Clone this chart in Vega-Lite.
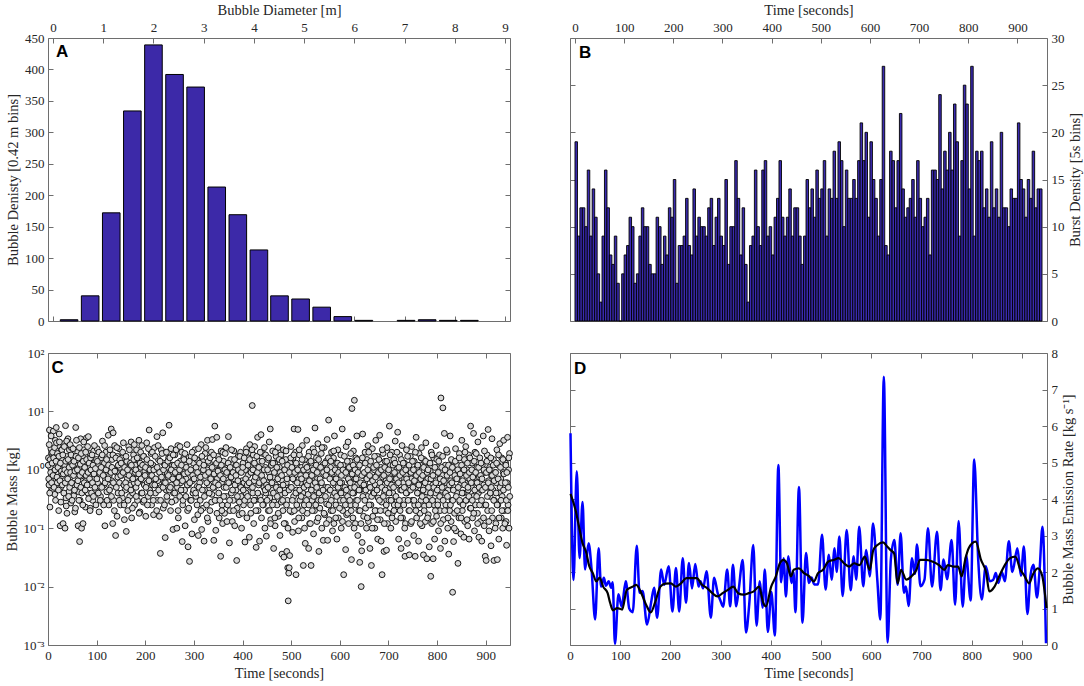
{
"$schema": "https://vega.github.io/schema/vega-lite/v6.json",
"background": "white",
"padding": {"left": 3, "top": 1, "right": 2, "bottom": 2},
"config": {
  "view": {"stroke": "#6e6e6e", "strokeWidth": 1},
  "axis": {"grid": false, "domain": false, "labelFont": "Liberation Serif", "titleFont": "Liberation Serif", "labelFontSize": 13, "titleFontSize": 14.5, "titleFontWeight": "normal", "labelColor": "#262626", "titleColor": "#262626", "tickColor": "#6e6e6e", "tickSize": -5, "labelPadding": 9, "labelFlush": false, "labelOverlap": false, "titlePadding": 4}
},
"columns": 2,
"spacing": {"row": 32, "column": 60},
"bounds": "flush",
"concat": [
 {
  "width": 462, "height": 283,
  "layer": [
   {"data": {"name": "hist"},
    "mark": {"type": "bar", "width": 17.6, "fill": "#3c29a8", "stroke": "#000000", "strokeWidth": 1},
    "encoding": {
      "x": {"field": "d", "type": "quantitative", "scale": {"domain": [0, 9], "nice": false}, "axis": {"orient": "top", "title": "Bubble Diameter [m]", "tickCount": 10}},
      "y": {"field": "n", "type": "quantitative", "scale": {"domain": [0, 450], "nice": false}, "axis": {"orient": "left", "title": "Bubble Denisty [0.42 m bins]", "tickCount": 10}}
    }},
   {"data": {"values": [{}]},
    "mark": {"type": "text", "text": "A", "font": "Liberation Sans", "fontWeight": "bold", "fontSize": 17, "align": "left", "baseline": "middle", "color": "#000000"},
    "encoding": {
      "x": {"datum": 0.06, "type": "quantitative", "axis": {"orient": "bottom", "labels": false, "title": null, "tickCount": 10}},
      "y": {"datum": 428, "type": "quantitative", "axis": {"orient": "right", "labels": false, "title": null, "tickCount": 10}}
    }}
  ],
  "resolve": {"axis": {"x": "independent", "y": "independent"}}
 },
 {
  "width": 477, "height": 283,
  "layer": [
   {"data": {"name": "burst"},
    "mark": {"type": "bar", "width": 2.51, "fill": "#3a2ab0", "stroke": "#000000", "strokeWidth": 0.9},
    "encoding": {
      "x": {"field": "t", "type": "quantitative", "scale": {"domain": [0, 950], "nice": false}, "axis": {"orient": "top", "title": "Time [seconds]", "tickCount": 10}},
      "y": {"field": "n", "type": "quantitative", "scale": {"domain": [0, 30], "nice": false}, "axis": {"orient": "right", "title": "Burst Density [5s bins]", "tickCount": 6, "titleAngle": 270, "titleBaseline": "top"}}
    }},
   {"data": {"values": [{}]},
    "mark": {"type": "text", "text": "B", "font": "Liberation Sans", "fontWeight": "bold", "fontSize": 17, "align": "left", "baseline": "middle", "color": "#000000"},
    "encoding": {
      "x": {"datum": 8, "type": "quantitative", "axis": {"orient": "bottom", "labels": false, "title": null, "tickCount": 10}},
      "y": {"datum": 28.4, "type": "quantitative", "axis": {"orient": "left", "labels": false, "title": null, "tickCount": 6}}
    }}
  ],
  "resolve": {"axis": {"x": "independent", "y": "independent"}}
 },
 {
  "width": 462, "height": 292,
  "layer": [
   {"data": {"name": "mass"},
    "mark": {"type": "circle", "size": 34, "fill": "#d9d9d9", "fillOpacity": 1, "stroke": "#151515", "strokeWidth": 1},
    "encoding": {
      "x": {"field": "t", "type": "quantitative", "scale": {"domain": [0, 950], "nice": false}, "axis": {"orient": "bottom", "title": "Time [seconds]", "tickCount": 10}},
      "y": {"field": "m", "type": "quantitative", "scale": {"type": "log", "domain": [0.001, 100], "nice": false}, "axis": {"orient": "left", "title": "Bubble Mass [kg]", "values": [0.001, 0.01, 0.1, 1, 10, 100], "labelExpr": "['10⁻³','10⁻²','10⁻¹','10⁰','10¹','10²'][round(log(datum.value)/LN10)+3]"}}
    }},
   {"data": {"values": [{}]},
    "mark": {"type": "text", "text": "C", "font": "Liberation Sans", "fontWeight": "bold", "fontSize": 17, "align": "left", "baseline": "middle", "color": "#000000"},
    "encoding": {
      "x": {"datum": 7, "type": "quantitative", "axis": {"orient": "top", "labels": false, "title": null, "tickCount": 10}},
      "y": {"datum": 55, "type": "quantitative", "axis": {"orient": "right", "labels": false, "title": null, "values": [0.001, 0.01, 0.1, 1, 10, 100]}}
    }}
  ],
  "resolve": {"axis": {"x": "independent", "y": "independent"}}
 },
 {
  "width": 477, "height": 292,
  "layer": [
   {"data": {"name": "rate"},
    "mark": {"type": "line", "interpolate": "monotone", "color": "#0000ff", "strokeWidth": 2.5},
    "encoding": {
      "x": {"field": "t", "type": "quantitative", "scale": {"domain": [0, 950], "nice": false}, "axis": {"orient": "bottom", "title": "Time [seconds]", "tickCount": 10}},
      "y": {"field": "r", "type": "quantitative", "scale": {"domain": [0, 8], "nice": false, "zero": true}, "axis": {"orient": "right", "title": "Bubble Mass Emission Rate [kg s⁻¹]", "values": [0, 1, 2, 3, 4, 5, 6, 7, 8], "labelExpr": "datum.value < 0.5 ? '0' : datum.label", "labelOverlap": false, "labelBound": false, "labelFlush": false, "titleAngle": 270, "titleBaseline": "top"}}
    }},
   {"data": {"name": "mean"},
    "mark": {"type": "line", "interpolate": "monotone", "color": "#000000", "strokeWidth": 2.2},
    "encoding": {
      "x": {"field": "t", "type": "quantitative", "axis": null},
      "y": {"field": "r", "type": "quantitative", "axis": null}
    }},
   {"data": {"values": [{}]},
    "mark": {"type": "text", "text": "D", "font": "Liberation Sans", "fontWeight": "bold", "fontSize": 17, "align": "left", "baseline": "middle", "color": "#000000"},
    "encoding": {
      "x": {"datum": 8, "type": "quantitative", "axis": {"orient": "top", "labels": false, "title": null, "tickCount": 10}},
      "y": {"datum": 7.56, "type": "quantitative", "axis": {"orient": "left", "labels": false, "title": null, "values": [0, 1, 2, 3, 4, 5, 6, 7, 8]}}
    }}
  ],
  "resolve": {"axis": {"x": "independent", "y": "independent"}}
 }
],
"datasets": {
 "hist": [
  {"d":0.32,"n":2},{"d":0.74,"n":40},{"d":1.16,"n":172},{"d":1.58,"n":334},{"d":2.0,"n":439},{"d":2.42,"n":392},{"d":2.84,"n":372},{"d":3.26,"n":213},{"d":3.68,"n":169},{"d":4.1,"n":113},{"d":4.51,"n":40},{"d":4.93,"n":35},{"d":5.35,"n":22},{"d":5.77,"n":7},{"d":6.19,"n":1},{"d":7.03,"n":1},{"d":7.45,"n":2},{"d":7.87,"n":1},{"d":8.29,"n":1}
 ],
 "burst": [
  {"t":2.5,"n":19},{"t":7.5,"n":9},{"t":12.5,"n":12},{"t":17.5,"n":12},{"t":22.5,"n":10},{"t":27.5,"n":16},{"t":32.5,"n":9},{"t":37.5,"n":14},{"t":42.5,"n":11},{"t":47.5,"n":5},
  {"t":52.5,"n":2},{"t":57.5,"n":9},{"t":62.5,"n":16},{"t":67.5,"n":12},{"t":72.5,"n":7},{"t":77.5,"n":6},{"t":82.5,"n":9},{"t":87.5,"n":4},{"t":92.5,"n":0},{"t":97.5,"n":5},
  {"t":102.5,"n":7},{"t":107.5,"n":8},{"t":112.5,"n":11},{"t":117.5,"n":10},{"t":122.5,"n":4},{"t":127.5,"n":5},{"t":132.5,"n":9},{"t":137.5,"n":12},{"t":142.5,"n":10},{"t":147.5,"n":10},
  {"t":152.5,"n":6},{"t":157.5,"n":5},{"t":162.5,"n":5},{"t":167.5,"n":11},{"t":172.5,"n":10},{"t":177.5,"n":6},{"t":182.5,"n":9},{"t":187.5,"n":7},{"t":192.5,"n":12},{"t":197.5,"n":11},
  {"t":202.5,"n":15},{"t":207.5,"n":4},{"t":212.5,"n":8},{"t":217.5,"n":8},{"t":222.5,"n":9},{"t":227.5,"n":13},{"t":232.5,"n":8},{"t":237.5,"n":7},{"t":242.5,"n":14},{"t":247.5,"n":9},
  {"t":252.5,"n":11},{"t":257.5,"n":10},{"t":262.5,"n":10},{"t":267.5,"n":9},{"t":272.5,"n":12},{"t":277.5,"n":13},{"t":282.5,"n":8},{"t":287.5,"n":11},{"t":292.5,"n":13},{"t":297.5,"n":9},
  {"t":302.5,"n":8},{"t":307.5,"n":15},{"t":312.5,"n":6},{"t":317.5,"n":10},{"t":322.5,"n":10},{"t":327.5,"n":17},{"t":332.5,"n":13},{"t":337.5,"n":7},{"t":342.5,"n":12},{"t":347.5,"n":6},
  {"t":352.5,"n":2},{"t":357.5,"n":8},{"t":362.5,"n":9},{"t":367.5,"n":16},{"t":372.5,"n":10},{"t":377.5,"n":8},{"t":382.5,"n":16},{"t":387.5,"n":17},{"t":392.5,"n":9},{"t":397.5,"n":10},
  {"t":402.5,"n":7},{"t":407.5,"n":11},{"t":412.5,"n":13},{"t":417.5,"n":17},{"t":422.5,"n":11},{"t":427.5,"n":9},{"t":432.5,"n":11},{"t":437.5,"n":14},{"t":442.5,"n":9},{"t":447.5,"n":12},
  {"t":452.5,"n":12},{"t":457.5,"n":9},{"t":462.5,"n":6},{"t":467.5,"n":9},{"t":472.5,"n":15},{"t":477.5,"n":12},{"t":482.5,"n":14},{"t":487.5,"n":11},{"t":492.5,"n":16},{"t":497.5,"n":13},
  {"t":502.5,"n":14},{"t":507.5,"n":17},{"t":512.5,"n":9},{"t":517.5,"n":14},{"t":522.5,"n":13},{"t":527.5,"n":18},{"t":532.5,"n":13},{"t":537.5,"n":19},{"t":542.5,"n":17},{"t":547.5,"n":10},
  {"t":552.5,"n":16},{"t":557.5,"n":13},{"t":562.5,"n":13},{"t":567.5,"n":15},{"t":572.5,"n":13},{"t":577.5,"n":17},{"t":582.5,"n":21},{"t":587.5,"n":17},{"t":592.5,"n":20},{"t":597.5,"n":11},
  {"t":602.5,"n":19},{"t":607.5,"n":15},{"t":612.5,"n":13},{"t":617.5,"n":9},{"t":622.5,"n":15},{"t":627.5,"n":27},{"t":632.5,"n":8},{"t":637.5,"n":7},{"t":642.5,"n":18},{"t":647.5,"n":17},
  {"t":652.5,"n":12},{"t":657.5,"n":17},{"t":662.5,"n":22},{"t":667.5,"n":14},{"t":672.5,"n":11},{"t":677.5,"n":12},{"t":682.5,"n":13},{"t":687.5,"n":15},{"t":692.5,"n":11},{"t":697.5,"n":17},
  {"t":702.5,"n":13},{"t":707.5,"n":10},{"t":712.5,"n":11},{"t":717.5,"n":13},{"t":722.5,"n":7},{"t":727.5,"n":16},{"t":732.5,"n":16},{"t":737.5,"n":15},{"t":742.5,"n":24},{"t":747.5,"n":14},
  {"t":752.5,"n":18},{"t":757.5,"n":16},{"t":762.5,"n":20},{"t":767.5,"n":16},{"t":772.5,"n":23},{"t":777.5,"n":19},{"t":782.5,"n":9},{"t":787.5,"n":17},{"t":792.5,"n":25},{"t":797.5,"n":23},
  {"t":802.5,"n":14},{"t":807.5,"n":27},{"t":812.5,"n":9},{"t":817.5,"n":18},{"t":822.5,"n":17},{"t":827.5,"n":18},{"t":832.5,"n":12},{"t":837.5,"n":14},{"t":842.5,"n":11},{"t":847.5,"n":19},
  {"t":852.5,"n":12},{"t":857.5,"n":14},{"t":862.5,"n":11},{"t":867.5,"n":20},{"t":872.5,"n":12},{"t":877.5,"n":12},{"t":882.5,"n":10},{"t":887.5,"n":14},{"t":892.5,"n":13},{"t":897.5,"n":13},
  {"t":902.5,"n":21},{"t":907.5,"n":15},{"t":912.5,"n":14},{"t":917.5,"n":11},{"t":922.5,"n":15},{"t":927.5,"n":13},{"t":932.5,"n":18},{"t":937.5,"n":12},{"t":942.5,"n":14},{"t":947.5,"n":14}
 ],
 "rate": [
  {"t":1,"r":5.8},{"t":7,"r":1.78},{"t":13.5,"r":4.76},{"t":19,"r":2.38},{"t":25,"r":3.92},{"t":30,"r":2.07},{"t":37,"r":2.79},{"t":43,"r":2.07},{"t":50,"r":0.7},{"t":57,"r":2.65},
  {"t":62,"r":1.6},{"t":67.5,"r":1.84},{"t":71.5,"r":1.62},{"t":77,"r":1.75},{"t":82,"r":1.57},{"t":85,"r":1.72},{"t":89.5,"r":0.03},{"t":96.5,"r":1.39},{"t":103,"r":1.05},{"t":111,"r":1.75},
  {"t":118,"r":1.0},{"t":125,"r":0.9},{"t":133,"r":2.72},{"t":138.5,"r":1.43},{"t":144.5,"r":1.48},{"t":153.5,"r":0.56},{"t":161.5,"r":1.16},{"t":167.5,"r":1.57},{"t":173.5,"r":0.75},{"t":181.5,"r":2.07},
  {"t":187.5,"r":1.65},{"t":196.5,"r":2.16},{"t":204,"r":0.92},{"t":211,"r":2.11},{"t":217.5,"r":0.92},{"t":224.5,"r":2.38},{"t":231,"r":1.16},{"t":237,"r":2.25},{"t":243,"r":1.55},{"t":249.5,"r":2.22},
  {"t":256,"r":1.6},{"t":260,"r":1.75},{"t":265,"r":1.55},{"t":272,"r":2.02},{"t":280.5,"r":0.75},{"t":287,"r":1.84},{"t":294,"r":1.43},{"t":300,"r":1.2},{"t":305,"r":1.05},{"t":313,"r":2.07},
  {"t":319,"r":1.06},{"t":324.5,"r":2.2},{"t":331,"r":1.06},{"t":336,"r":1.52},{"t":344,"r":2.33},{"t":350.5,"r":0.34},{"t":357,"r":1.12},{"t":365,"r":2.74},{"t":371.5,"r":0.53},{"t":378,"r":1.75},
  {"t":383.5,"r":1.02},{"t":388,"r":2.07},{"t":394,"r":0.36},{"t":401,"r":1.45},{"t":408,"r":0.26},{"t":415,"r":4.93},{"t":420.5,"r":1.72},{"t":425.5,"r":2.38},{"t":430,"r":1.33},{"t":435,"r":2.43},
  {"t":441,"r":1.7},{"t":445,"r":2.0},{"t":449,"r":0.9},{"t":456,"r":4.33},{"t":463,"r":0.61},{"t":470,"r":2.52},{"t":476,"r":1.7},{"t":481,"r":1.85},{"t":486.5,"r":1.66},{"t":494,"r":1.66},
  {"t":502,"r":3.02},{"t":509,"r":1.52},{"t":515.5,"r":2.47},{"t":521,"r":1.79},{"t":527,"r":2.65},{"t":531,"r":2.0},{"t":536.5,"r":2.97},{"t":543,"r":1.34},{"t":551,"r":3.15},{"t":559,"r":1.5},
  {"t":565,"r":2.43},{"t":570,"r":1.79},{"t":576,"r":3.24},{"t":584,"r":1.61},{"t":590,"r":2.6},{"t":597,"r":1.88},{"t":603.5,"r":3.33},{"t":612,"r":1.79},{"t":618,"r":0.7},{"t":625,"r":7.35},
  {"t":632.5,"r":0.07},{"t":639,"r":2.34},{"t":646,"r":2.88},{"t":652.5,"r":1.65},{"t":658.5,"r":3.06},{"t":665,"r":1.43},{"t":669,"r":1.6},{"t":674.5,"r":1.07},{"t":681,"r":2.38},{"t":687,"r":1.95},
  {"t":691,"r":2.75},{"t":698,"r":1.61},{"t":706,"r":1.79},{"t":713,"r":3.2},{"t":721,"r":1.6},{"t":731,"r":3.1},{"t":738,"r":1.5},{"t":744,"r":2.34},{"t":751,"r":1.8},{"t":760,"r":2.88},
  {"t":767,"r":1.1},{"t":774,"r":3.4},{"t":782,"r":1.05},{"t":789,"r":2.45},{"t":798,"r":1.22},{"t":805,"r":5.08},{"t":813,"r":2.34},{"t":820,"r":1.25},{"t":828,"r":2.16},{"t":836,"r":1.75},
  {"t":843,"r":1.79},{"t":848,"r":1.97},{"t":853,"r":1.7},{"t":860,"r":2.0},{"t":866,"r":1.75},{"t":874,"r":2.84},{"t":881,"r":2.0},{"t":891,"r":2.65},{"t":898,"r":1.9},{"t":904,"r":2.7},
  {"t":911,"r":0.85},{"t":917,"r":1.9},{"t":923,"r":2.2},{"t":930,"r":1.3},{"t":935,"r":2.0},{"t":941,"r":3.24},{"t":948,"r":0.05}
 ],
 "mean": [
  {"t":1,"r":4.14},{"t":11,"r":3.7},{"t":18,"r":3.24},{"t":25,"r":2.79},{"t":31.7,"r":2.56},{"t":38.6,"r":2.15},{"t":45.5,"r":1.97},{"t":52.4,"r":1.74},{"t":59,"r":1.85},{"t":66,"r":1.6},
  {"t":75,"r":1.42},{"t":80,"r":1.15},{"t":85.5,"r":0.95},{"t":94,"r":1.01},{"t":104,"r":0.97},{"t":113,"r":1.51},{"t":125,"r":1.6},{"t":132,"r":1.65},{"t":142,"r":1.42},{"t":153,"r":1.06},
  {"t":160.7,"r":0.89},{"t":170,"r":1.19},{"t":180,"r":1.6},{"t":190,"r":1.68},{"t":200.7,"r":1.69},{"t":211,"r":1.6},{"t":221,"r":1.69},{"t":232,"r":1.83},{"t":242,"r":1.83},{"t":252.4,"r":1.83},
  {"t":262.8,"r":1.65},{"t":273,"r":1.56},{"t":283.4,"r":1.42},{"t":293.8,"r":1.33},{"t":304,"r":1.42},{"t":314.5,"r":1.51},{"t":325,"r":1.6},{"t":335,"r":1.42},{"t":345.5,"r":1.38},{"t":356,"r":1.42},
  {"t":366,"r":1.47},{"t":376.5,"r":1.6},{"t":385,"r":1.15},{"t":390.3,"r":1.06},{"t":400.7,"r":1.6},{"t":410,"r":1.88},{"t":418,"r":2.24},{"t":425,"r":2.33},{"t":432,"r":2.24},{"t":440,"r":1.88},
  {"t":445.5,"r":2.06},{"t":456,"r":2.1},{"t":466,"r":1.97},{"t":476.6,"r":1.88},{"t":485.5,"r":1.74},{"t":494,"r":1.97},{"t":504,"r":2.06},{"t":514.5,"r":2.29},{"t":525,"r":2.33},{"t":535,"r":2.38},
  {"t":545.5,"r":2.24},{"t":556,"r":2.15},{"t":566,"r":2.24},{"t":576.6,"r":2.19},{"t":587,"r":2.42},{"t":597,"r":2.06},{"t":604,"r":2.6},{"t":612.4,"r":2.74},{"t":623.4,"r":2.81},{"t":631.7,"r":2.7},
  {"t":638.6,"r":2.6},{"t":645.5,"r":2.51},{"t":652.4,"r":1.69},{"t":659.3,"r":2.06},{"t":669.6,"r":1.79},{"t":680,"r":1.88},{"t":690,"r":2.06},{"t":697,"r":2.33},{"t":707.6,"r":2.33},{"t":721.4,"r":2.29},
  {"t":735,"r":2.19},{"t":745.5,"r":2.06},{"t":752.4,"r":2.19},{"t":762.8,"r":2.15},{"t":773,"r":2.15},{"t":780,"r":1.88},{"t":787,"r":2.33},{"t":794,"r":2.65},{"t":808,"r":2.83},{"t":818.6,"r":2.33},
  {"t":829,"r":1.97},{"t":835,"r":1.47},{"t":845.5,"r":1.6},{"t":856,"r":1.92},{"t":866,"r":2.19},{"t":876.5,"r":2.38},{"t":887,"r":2.42},{"t":897,"r":2.06},{"t":904,"r":1.92},{"t":914.5,"r":1.69},
  {"t":921.4,"r":1.92},{"t":931.7,"r":2.1},{"t":940,"r":1.92},{"t":949,"r":1.01}
 ],
 "mass": [
  {"t":1,"m":1.6},{"t":2,"m":0.55},{"t":3,"m":4.8},{"t":4,"m":0.23},{"t":5,"m":1.1},{"t":6,"m":2.3},{"t":7,"m":0.8},{"t":8,"m":1.9},{"t":9,"m":0.45},
  {"t":11,"m":4.6},{"t":12,"m":0.95},{"t":13,"m":1.8},{"t":14,"m":0.38},{"t":15,"m":3.2},{"t":16,"m":0.7},{"t":17,"m":5.3},{"t":18,"m":1.3},{"t":19,"m":0.6},
  {"t":21,"m":2.6},{"t":22,"m":0.2},{"t":23,"m":4.1},{"t":24,"m":1.05},{"t":25,"m":0.11},{"t":26,"m":0.5},{"t":27,"m":2.1},{"t":28,"m":0.85},{"t":29,"m":1.5},
  {"t":31,"m":0.12},{"t":32,"m":2.8},{"t":33,"m":0.65},{"t":34,"m":1.2},{"t":35,"m":0.1},{"t":36,"m":5.7},{"t":37,"m":0.33},{"t":38,"m":1.7},{"t":39,"m":0.18},
  {"t":41,"m":3.4},{"t":42,"m":0.9},{"t":43,"m":0.42},{"t":44,"m":2.2},{"t":45,"m":1.4},{"t":46,"m":0.75},{"t":47,"m":0.27},{"t":48,"m":2.4},{"t":49,"m":1.0},
  {"t":51,"m":0.5},{"t":52,"m":1.6},{"t":53,"m":0.36},{"t":55,"m":0.19},{"t":56,"m":1.25},{"t":57,"m":5.3},{"t":58,"m":0.85},{"t":59,"m":0.6},
  {"t":61,"m":2.0},{"t":62,"m":0.11},{"t":63,"m":0.42},{"t":64,"m":1.1},{"t":65,"m":0.059},{"t":66,"m":0.3},{"t":67,"m":3.4},{"t":68,"m":0.78},{"t":69,"m":0.1},
  {"t":71,"m":1.7},{"t":72,"m":0.12},{"t":73,"m":0.5},{"t":74,"m":2.2},{"t":75,"m":1.0},{"t":77,"m":0.23},{"t":78,"m":0.65},{"t":79,"m":3.5},
  {"t":81,"m":1.3},{"t":82,"m":0.4},{"t":83,"m":3.7},{"t":84,"m":0.8},{"t":86,"m":1.9},{"t":87,"m":0.22},{"t":88,"m":0.55},
  {"t":91,"m":1.0},{"t":92,"m":0.3},{"t":94,"m":2.1},{"t":95,"m":0.7},{"t":97,"m":1.4},{"t":98,"m":0.45},{"t":99,"m":0.9},
  {"t":101,"m":2.3},{"t":102,"m":0.6},{"t":104,"m":1.2},{"t":105,"m":0.19},{"t":106,"m":0.85},{"t":108,"m":0.35},{"t":109,"m":1.6},
  {"t":111,"m":0.9},{"t":112,"m":3.1},{"t":113,"m":0.28},{"t":115,"m":0.55},{"t":116,"m":1.3},{"t":117,"m":0.11},{"t":118,"m":0.7},{"t":119,"m":2.0},
  {"t":121,"m":0.42},{"t":122,"m":1.1},{"t":124,"m":3.9},{"t":125,"m":0.25},{"t":126,"m":0.8},{"t":127,"m":1.8},{"t":129,"m":0.5},{"t":130,"m":5.0},
  {"t":131,"m":0.65},{"t":132,"m":1.5},{"t":133,"m":0.12},{"t":134,"m":4.3},{"t":135,"m":0.3},{"t":136,"m":1.0},{"t":137,"m":2.6},{"t":139,"m":0.075},
  {"t":141,"m":0.9},{"t":142,"m":0.16},{"t":143,"m":1.7},{"t":144,"m":0.4},{"t":146,"m":2.3},{"t":147,"m":0.6},{"t":148,"m":1.1},{"t":149,"m":0.25},
  {"t":151,"m":0.8},{"t":152,"m":1.6},{"t":153,"m":0.33},{"t":155,"m":2.9},{"t":156,"m":0.55},{"t":157,"m":0.14},{"t":158,"m":1.2},{"t":159,"m":0.45},
  {"t":161,"m":0.088},{"t":162,"m":1.4},{"t":163,"m":0.7},{"t":164,"m":0.2},{"t":166,"m":2.5},{"t":167,"m":1.0},{"t":168,"m":0.35},{"t":169,"m":0.55},
  {"t":171,"m":3.0},{"t":172,"m":0.15},{"t":173,"m":0.9},{"t":174,"m":0.4},{"t":176,"m":1.8},{"t":177,"m":0.6},{"t":178,"m":0.25},{"t":179,"m":1.2},
  {"t":181,"m":0.5},{"t":182,"m":2.2},{"t":183,"m":0.85},{"t":184,"m":0.3},{"t":186,"m":1.5},{"t":187,"m":3.2},{"t":188,"m":0.65},{"t":189,"m":0.19},
  {"t":191,"m":1.1},{"t":192,"m":0.4},{"t":193,"m":2.6},{"t":194,"m":0.75},{"t":196,"m":0.28},{"t":197,"m":1.7},{"t":198,"m":0.55},{"t":199,"m":0.95},
  {"t":201,"m":0.16},{"t":202,"m":1.3},{"t":203,"m":2.9},{"t":204,"m":0.6},{"t":206,"m":0.35},{"t":207,"m":1.0},{"t":208,"m":4.8},{"t":209,"m":0.45},
  {"t":211,"m":0.8},{"t":212,"m":1.9},{"t":213,"m":0.25},{"t":215,"m":0.55},{"t":216,"m":1.2},{"t":217,"m":0.17},{"t":218,"m":0.7},{"t":219,"m":2.4},
  {"t":221,"m":0.4},{"t":222,"m":1.05},{"t":224,"m":3.7},{"t":225,"m":0.3},{"t":226,"m":0.65},{"t":227,"m":1.5},{"t":229,"m":0.16},{"t":230,"m":0.9},
  {"t":231,"m":0.037},{"t":232,"m":0.5},{"t":233,"m":2.2},{"t":234,"m":0.85},{"t":236,"m":4.3},{"t":237,"m":0.22},{"t":238,"m":1.3},{"t":239,"m":0.6},
  {"t":241,"m":0.069},{"t":242,"m":2.0},{"t":243,"m":0.45},{"t":244,"m":1.1},{"t":246,"m":0.3},{"t":247,"m":0.75},{"t":248,"m":1.6},{"t":249,"m":5.8},
  {"t":251,"m":0.9},{"t":252,"m":0.2},{"t":253,"m":2.3},{"t":254,"m":0.55},{"t":256,"m":1.2},{"t":257,"m":0.095},{"t":258,"m":0.4},{"t":259,"m":0.7},
  {"t":261,"m":1.8},{"t":262,"m":0.3},{"t":263,"m":1.0},{"t":265,"m":0.1},{"t":266,"m":0.5},{"t":267,"m":2.6},{"t":268,"m":0.15},{"t":269,"m":0.8},
  {"t":271,"m":0.35},{"t":272,"m":1.4},{"t":273,"m":0.6},{"t":275,"m":2.0},{"t":276,"m":0.059},{"t":277,"m":0.25},{"t":278,"m":0.9},{"t":279,"m":1.6},
  {"t":281,"m":0.45},{"t":282,"m":0.11},{"t":283,"m":1.2},{"t":284,"m":0.7},{"t":286,"m":2.7},{"t":287,"m":0.2},{"t":288,"m":0.048},{"t":289,"m":0.55},
  {"t":291,"m":0.027},{"t":292,"m":1.0},{"t":293,"m":0.3},{"t":294,"m":1.7},{"t":296,"m":0.08},{"t":297,"m":0.65},{"t":298,"m":0.4},{"t":299,"m":1.3},
  {"t":301,"m":0.14},{"t":302,"m":2.2},{"t":303,"m":0.9},{"t":304,"m":0.35},{"t":306,"m":1.5},{"t":307,"m":0.52},{"t":308,"m":0.17},{"t":309,"m":0.075},
  {"t":311,"m":1.1},{"t":312,"m":0.6},{"t":313,"m":0.3},{"t":315,"m":2.7},{"t":316,"m":0.095},{"t":317,"m":0.8},{"t":318,"m":1.4},{"t":319,"m":0.22},
  {"t":321,"m":0.06},{"t":322,"m":0.45},{"t":323,"m":1.9},{"t":324,"m":0.7},{"t":326,"m":0.25},{"t":327,"m":1.0},{"t":328,"m":3.2},{"t":329,"m":0.13},
  {"t":331,"m":0.55},{"t":332,"m":1.3},{"t":333,"m":0.2},{"t":335,"m":0.8},{"t":336,"m":2.0},{"t":337,"m":0.38},{"t":338,"m":3.3},{"t":339,"m":0.95},
  {"t":341,"m":0.062},{"t":342,"m":0.5},{"t":343,"m":5.6},{"t":344,"m":1.2},{"t":345,"m":0.092},{"t":346,"m":0.3},{"t":347,"m":3.6},{"t":348,"m":0.7},{"t":349,"m":1.7},
  {"t":351,"m":0.4},{"t":352,"m":0.15},{"t":353,"m":1.0},{"t":355,"m":0.033},{"t":356,"m":2.1},{"t":357,"m":0.6},{"t":358,"m":0.25},{"t":359,"m":0.12},
  {"t":361,"m":1.4},{"t":362,"m":0.5},{"t":363,"m":0.18},{"t":365,"m":0.8},{"t":366,"m":2.4},{"t":367,"m":0.35},{"t":368,"m":0.13},{"t":369,"m":1.1},
  {"t":371,"m":3.7},{"t":372,"m":0.6},{"t":373,"m":0.056},{"t":374,"m":0.2},{"t":376,"m":1.5},{"t":377,"m":0.4},{"t":378,"m":0.9},{"t":379,"m":0.13},
  {"t":381,"m":0.3},{"t":382,"m":2.1},{"t":383,"m":0.7},{"t":384,"m":0.11},{"t":386,"m":1.2},{"t":387,"m":0.45},{"t":388,"m":0.028},{"t":389,"m":0.22},
  {"t":391,"m":1.7},{"t":392,"m":0.55},{"t":393,"m":0.17},{"t":395,"m":0.95},{"t":396,"m":2.0},{"t":397,"m":0.35},{"t":398,"m":0.1},{"t":399,"m":0.65},
  {"t":401,"m":1.3},{"t":402,"m":0.25},{"t":403,"m":0.6},{"t":405,"m":0.058},{"t":406,"m":1.0},{"t":407,"m":0.4},{"t":408,"m":2.3},{"t":409,"m":0.15},
  {"t":411,"m":0.8},{"t":412,"m":1.6},{"t":413,"m":0.3},{"t":414,"m":0.07},{"t":415,"m":2.7},{"t":416,"m":0.5},{"t":417,"m":0.18},{"t":418,"m":1.1},{"t":419,"m":0.9},
  {"t":420,"m":12.6},{"t":421,"m":0.4},{"t":422,"m":1.8},{"t":423,"m":0.12},{"t":424,"m":0.65},{"t":425,"m":2.5},{"t":426,"m":0.3},{"t":427,"m":1.2},{"t":428,"m":0.047},{"t":429,"m":0.8},
  {"t":431,"m":3.6},{"t":432,"m":0.2},{"t":433,"m":0.55},{"t":434,"m":1.4},{"t":435,"m":0.06},{"t":436,"m":0.35},{"t":437,"m":0.9},{"t":438,"m":4.0},{"t":439,"m":0.15},
  {"t":441,"m":0.7},{"t":442,"m":1.9},{"t":443,"m":0.25},{"t":444,"m":0.5},{"t":445,"m":2.4},{"t":446,"m":0.1},{"t":447,"m":1.1},{"t":448,"m":0.4},{"t":449,"m":0.073},
  {"t":451,"m":0.6},{"t":452,"m":1.5},{"t":453,"m":0.2},{"t":454,"m":0.9},{"t":455,"m":3.0},{"t":456,"m":0.33},{"t":457,"m":5.0},{"t":458,"m":0.14},{"t":459,"m":1.2},
  {"t":461,"m":0.45},{"t":462,"m":2.1},{"t":463,"m":0.75},{"t":464,"m":0.045},{"t":465,"m":0.28},{"t":466,"m":1.3},{"t":467,"m":0.11},{"t":468,"m":0.55},{"t":469,"m":1.7},
  {"t":471,"m":0.25},{"t":472,"m":0.9},{"t":473,"m":2.4},{"t":474,"m":0.16},{"t":475,"m":0.5},{"t":476,"m":1.1},{"t":477,"m":0.075},{"t":478,"m":0.38},{"t":479,"m":1.8},
  {"t":481,"m":0.036},{"t":482,"m":0.65},{"t":483,"m":0.2},{"t":484,"m":2.2},{"t":485,"m":0.032},{"t":486,"m":1.0},{"t":487,"m":0.45},{"t":488,"m":0.12},{"t":489,"m":1.5},{"t":490,"m":0.6},
  {"t":491,"m":0.04},{"t":492,"m":0.3},{"t":493,"m":0.021},{"t":494,"m":0.0057},{"t":495,"m":0.017},{"t":496,"m":0.021},{"t":497,"m":0.034},{"t":498,"m":1.3},{"t":499,"m":0.5},{"t":499.5,"m":2.5},
  {"t":501,"m":0.19},{"t":502,"m":0.8},{"t":503,"m":0.085},{"t":504,"m":1.6},{"t":505,"m":0.35},{"t":506,"m":5.0},{"t":507,"m":0.13},{"t":508,"m":0.65},{"t":509,"m":2.0},
  {"t":510,"m":0.016},{"t":511,"m":0.45},{"t":512,"m":1.2},{"t":513,"m":0.22},{"t":514,"m":4.9},{"t":515,"m":0.09},{"t":516,"m":0.7},{"t":517,"m":1.8},{"t":518,"m":0.3},{"t":519,"m":0.6},
  {"t":521,"m":1.1},{"t":522,"m":0.15},{"t":523,"m":2.6},{"t":524,"m":0.4},{"t":525,"m":0.023},{"t":526,"m":0.85},{"t":527,"m":0.25},{"t":528,"m":1.5},{"t":529,"m":0.055},
  {"t":531,"m":0.6},{"t":532,"m":3.2},{"t":533,"m":0.18},{"t":534,"m":1.0},{"t":535,"m":0.38},{"t":536,"m":0.045},{"t":537,"m":2.0},{"t":538,"m":0.12},{"t":539,"m":0.7},
  {"t":541,"m":0.023},{"t":542,"m":1.3},{"t":543,"m":0.3},{"t":544,"m":0.55},{"t":545,"m":2.3},{"t":546,"m":0.08},{"t":547,"m":0.9},{"t":548,"m":0.2},{"t":549,"m":5.2},
  {"t":551,"m":0.45},{"t":552,"m":1.6},{"t":553,"m":0.13},{"t":554,"m":0.7},{"t":555,"m":2.8},{"t":556,"m":0.3},{"t":557,"m":0.04},{"t":558,"m":1.1},{"t":559,"m":0.22},
  {"t":561,"m":0.6},{"t":562,"m":1.9},{"t":563,"m":0.1},{"t":564,"m":0.35},{"t":565,"m":1.2},{"t":566,"m":0.062},{"t":567,"m":0.8},{"t":568,"m":2.4},{"t":569,"m":0.17},
  {"t":571,"m":0.5},{"t":572,"m":1.4},{"t":573,"m":0.26},{"t":574,"m":3.3},{"t":575,"m":0.062},{"t":576,"m":0.9},{"t":577,"m":7.1},{"t":578,"m":0.14},{"t":579,"m":0.45},
  {"t":581,"m":1.1},{"t":582,"m":0.2},{"t":583,"m":2.0},{"t":584,"m":0.7},{"t":585,"m":0.09},{"t":586,"m":0.35},{"t":587,"m":1.6},{"t":588,"m":0.12},{"t":589,"m":3.8},
  {"t":591,"m":0.55},{"t":592,"m":0.25},{"t":593,"m":1.3},{"t":594,"m":0.065},{"t":595,"m":0.85},{"t":596,"m":2.2},{"t":597,"m":0.15},{"t":598,"m":0.45},{"t":599,"m":1.0},
  {"t":601,"m":0.3},{"t":602,"m":1.8},{"t":603,"m":0.1},{"t":604,"m":0.6},{"t":605,"m":5.0},{"t":606,"m":0.2},{"t":607,"m":1.2},{"t":608,"m":0.016},{"t":609,"m":0.4},
  {"t":611,"m":0.8},{"t":612,"m":0.043},{"t":613,"m":2.5},{"t":614,"m":0.17},{"t":615,"m":1.0},{"t":616,"m":0.35},{"t":617,"m":3.0},{"t":618,"m":0.12},{"t":619,"m":0.65},
  {"t":621,"m":1.4},{"t":622,"m":0.25},{"t":623,"m":0.5},{"t":624,"m":0.029},{"t":625,"m":11.2},{"t":626,"m":0.9},{"t":627,"m":0.15},{"t":628,"m":2.1},{"t":629,"m":0.4},{"t":630,"m":15.5},
  {"t":631,"m":0.7},{"t":632,"m":0.12},{"t":633,"m":1.6},{"t":634,"m":0.3},{"t":635,"m":3.8},{"t":636,"m":0.55},{"t":637,"m":0.075},{"t":638,"m":1.1},{"t":639,"m":0.2},
  {"t":641,"m":0.026},{"t":642,"m":0.45},{"t":643,"m":1.3},{"t":644,"m":0.01},{"t":645,"m":0.041},{"t":646,"m":0.057},{"t":647,"m":4.1},{"t":648,"m":0.8},{"t":649,"m":0.16},
  {"t":651,"m":0.6},{"t":652,"m":2.0},{"t":653,"m":0.22},{"t":654,"m":0.9},{"t":655,"m":0.1},{"t":656,"m":1.5},{"t":657,"m":0.35},{"t":658,"m":2.6},{"t":659,"m":0.13},
  {"t":661,"m":0.5},{"t":662,"m":0.045},{"t":663,"m":1.2},{"t":664,"m":0.25},{"t":665,"m":0.023},{"t":666,"m":0.7},{"t":667,"m":2.3},{"t":668,"m":0.16},{"t":669,"m":0.4},
  {"t":671,"m":1.0},{"t":672,"m":0.1},{"t":673,"m":0.55},{"t":674,"m":3.2},{"t":675,"m":0.2},{"t":676,"m":0.8},{"t":677,"m":1.7},{"t":678,"m":0.065},{"t":679,"m":0.33},
  {"t":681,"m":0.5},{"t":682,"m":3.9},{"t":683,"m":0.14},{"t":684,"m":1.1},{"t":685,"m":0.06},{"t":686,"m":0.28},{"t":687,"m":0.016},{"t":688,"m":0.75},{"t":689,"m":1.9},
  {"t":691,"m":0.04},{"t":692,"m":0.4},{"t":693,"m":1.4},{"t":694,"m":0.2},{"t":695,"m":0.65},{"t":696,"m":0.042},{"t":697,"m":2.4},{"t":698,"m":0.12},{"t":699,"m":0.9},
  {"t":701,"m":0.3},{"t":702,"m":5.6},{"t":703,"m":0.5},{"t":704,"m":1.2},{"t":705,"m":0.1},{"t":706,"m":0.7},{"t":707,"m":2.0},{"t":708,"m":0.18},{"t":709,"m":0.4},
  {"t":711,"m":1.5},{"t":712,"m":0.25},{"t":713,"m":0.85},{"t":714,"m":3.1},{"t":715,"m":0.13},{"t":716,"m":0.55},{"t":717,"m":1.1},{"t":718,"m":0.3},{"t":719,"m":4.4},
  {"t":721,"m":0.065},{"t":722,"m":0.7},{"t":723,"m":1.8},{"t":724,"m":0.2},{"t":725,"m":0.45},{"t":726,"m":0.045},{"t":727,"m":1.0},{"t":728,"m":2.6},{"t":729,"m":0.15},
  {"t":731,"m":0.6},{"t":732,"m":0.3},{"t":733,"m":1.3},{"t":734,"m":0.033},{"t":735,"m":0.12},{"t":736,"m":0.8},{"t":737,"m":2.2},{"t":738,"m":0.4},{"t":739,"m":0.055},
  {"t":741,"m":1.0},{"t":742,"m":0.2},{"t":743,"m":0.035},{"t":744,"m":0.55},{"t":745,"m":1.7},{"t":746,"m":0.12},{"t":747,"m":0.7},{"t":748,"m":2.5},{"t":749,"m":0.3},
  {"t":751,"m":0.9},{"t":752,"m":0.075},{"t":753,"m":1.4},{"t":754,"m":0.25},{"t":755,"m":0.033},{"t":756,"m":0.5},{"t":757,"m":3.6},{"t":758,"m":0.15},{"t":759,"m":1.1},
  {"t":761,"m":0.4},{"t":762,"m":0.06},{"t":763,"m":1.9},{"t":764,"m":0.65},{"t":765,"m":0.18},{"t":766,"m":1.2},{"t":767,"m":0.3},{"t":768,"m":2.4},{"t":769,"m":0.11},
  {"t":771,"m":0.5},{"t":772,"m":0.035},{"t":773,"m":1.5},{"t":774,"m":0.24},{"t":775,"m":0.8},{"t":776,"m":0.13},{"t":777,"m":2.9},{"t":778,"m":0.42},{"t":779,"m":0.03},
  {"t":781,"m":0.7},{"t":782,"m":0.17},{"t":783,"m":1.3},{"t":784,"m":0.048},{"t":785,"m":0.35},{"t":786,"m":0.95},{"t":787,"m":0.015},{"t":788,"m":2.0},{"t":789,"m":0.12},
  {"t":791,"m":0.55},{"t":792,"m":0.03},{"t":793,"m":1.6},{"t":794,"m":0.25},{"t":795,"m":0.065},{"t":796,"m":0.8},{"t":797,"m":0.4},{"t":798,"m":2.6},{"t":799,"m":0.16},
  {"t":801,"m":1.1},{"t":802,"m":0.3},{"t":803,"m":0.09},{"t":804,"m":0.6},{"t":805,"m":1.8},{"t":806,"m":0.2},{"t":807,"m":0.045},{"t":808,"m":17},{"t":809,"m":0.45},
  {"t":811,"m":0.8},{"t":812,"m":11.5},{"t":813,"m":0.14},{"t":814,"m":0.35},{"t":815,"m":4.2},{"t":816,"m":0.06},{"t":817,"m":1.2},{"t":818,"m":0.25},{"t":819,"m":0.6},
  {"t":821,"m":2.0},{"t":822,"m":0.1},{"t":823,"m":0.45},{"t":824,"m":0.036},{"t":825,"m":1.0},{"t":826,"m":0.2},{"t":827,"m":3.8},{"t":828,"m":0.65},{"t":829,"m":0.13},
  {"t":831,"m":0.3},{"t":832,"m":0.008},{"t":833,"m":1.4},{"t":834,"m":0.059},{"t":835,"m":0.5},{"t":836,"m":0.18},{"t":837,"m":0.9},{"t":838,"m":2.3},{"t":839,"m":0.09},
  {"t":841,"m":0.4},{"t":842,"m":1.2},{"t":843,"m":0.025},{"t":844,"m":0.7},{"t":845,"m":0.15},{"t":846,"m":1.9},{"t":847,"m":0.28},{"t":848,"m":0.55},{"t":849,"m":0.08},
  {"t":851,"m":3.2},{"t":852,"m":0.2},{"t":853,"m":0.9},{"t":854,"m":0.4},{"t":855,"m":0.07},{"t":856,"m":1.5},{"t":857,"m":0.13},{"t":858,"m":0.6},{"t":859,"m":2.5},
  {"t":861,"m":0.3},{"t":862,"m":1.0},{"t":863,"m":0.11},{"t":864,"m":0.45},{"t":865,"m":1.8},{"t":866,"m":0.065},{"t":867,"m":0.7},{"t":868,"m":0.22},{"t":869,"m":5.6},
  {"t":871,"m":0.5},{"t":872,"m":1.3},{"t":873,"m":0.15},{"t":874,"m":0.35},{"t":875,"m":4.2},{"t":876,"m":0.85},{"t":877,"m":0.09},{"t":878,"m":2.0},{"t":879,"m":0.25},
  {"t":881,"m":0.6},{"t":882,"m":1.1},{"t":883,"m":0.18},{"t":884,"m":3.0},{"t":885,"m":0.4},{"t":886,"m":0.07},{"t":887,"m":0.75},{"t":888,"m":1.6},{"t":889,"m":0.13},
  {"t":891,"m":0.45},{"t":892,"m":0.06},{"t":893,"m":1.2},{"t":894,"m":0.25},{"t":895,"m":3.8},{"t":896,"m":0.55},{"t":897,"m":0.11},{"t":898,"m":0.9},{"t":899,"m":0.033},
  {"t":901,"m":0.028},{"t":902,"m":0.5},{"t":903,"m":1.8},{"t":904,"m":0.2},{"t":905,"m":4.9},{"t":906,"m":0.65},{"t":907,"m":0.09},{"t":908,"m":1.1},{"t":909,"m":0.35},
  {"t":911,"m":0.05},{"t":912,"m":0.8},{"t":913,"m":3.4},{"t":914,"m":0.15},{"t":915,"m":0.45},{"t":916,"m":1.5},{"t":917,"m":0.028},{"t":918,"m":0.3},{"t":919,"m":0.9},
  {"t":921,"m":0.12},{"t":922,"m":0.6},{"t":923,"m":2.2},{"t":924,"m":0.029},{"t":925,"m":0.25},{"t":926,"m":1.2},{"t":927,"m":0.065},{"t":928,"m":0.4},{"t":929,"m":2.8},
  {"t":931,"m":0.7},{"t":932,"m":0.15},{"t":933,"m":1.6},{"t":934,"m":0.35},{"t":935,"m":0.1},{"t":936,"m":0.9},{"t":937,"m":3.2},{"t":938,"m":0.2},{"t":939,"m":0.5},
  {"t":941,"m":1.3},{"t":942,"m":0.13},{"t":943,"m":0.051},{"t":944,"m":0.6},{"t":945,"m":3.6},{"t":946,"m":0.25},{"t":947,"m":1.0},{"t":948,"m":0.1},{"t":949,"m":1.9},
  {"t":0.5,"m":1.2},{"t":1.5,"m":0.7},{"t":2.5,"m":2.7},{"t":3.5,"m":0.4},{"t":4.5,"m":1.5},{"t":5.5,"m":0.9},{"t":6.5,"m":3.8},{"t":7.5,"m":0.6},{"t":8.5,"m":1.3},{"t":9.5,"m":2.0},
  {"t":10.5,"m":0.8},{"t":11.5,"m":1.6},{"t":12.5,"m":0.5},{"t":13.5,"m":2.4},{"t":14.5,"m":1.0},{"t":15.5,"m":0.3},{"t":16.5,"m":1.4},{"t":17.5,"m":2.9},{"t":18.5,"m":0.75},{"t":19.5,"m":1.9},
  {"t":20.5,"m":1.1},{"t":21.5,"m":0.45},{"t":22.5,"m":1.7},{"t":23.5,"m":3.0},{"t":24.5,"m":0.65},{"t":25.5,"m":1.3},{"t":26.5,"m":0.28},{"t":27.5,"m":0.95},{"t":28.5,"m":2.2},{"t":29.5,"m":0.55},
  {"t":30.5,"m":1.8},{"t":31.5,"m":0.85},{"t":32.5,"m":0.4},{"t":33.5,"m":2.5},{"t":34.5,"m":1.0},{"t":35.5,"m":0.6},{"t":36.5,"m":1.4},{"t":37.5,"m":0.24},{"t":38.5,"m":3.1},{"t":39.5,"m":0.9},
  {"t":40.5,"m":0.7},{"t":41.5,"m":1.5},{"t":42.5,"m":0.35},{"t":43.5,"m":1.1},{"t":44.5,"m":0.5},{"t":45.5,"m":2.7},{"t":46.5,"m":0.9},{"t":47.5,"m":1.8},{"t":48.5,"m":0.6},{"t":49.5,"m":0.3},
  {"t":50.5,"m":1.2},{"t":51.5,"m":2.3},{"t":52.5,"m":0.8},{"t":53.5,"m":1.4},{"t":54.5,"m":0.45},{"t":55.5,"m":0.95},{"t":56.5,"m":0.22},{"t":57.5,"m":1.7},{"t":58.5,"m":3.2},{"t":59.5,"m":0.55},
  {"t":60.5,"m":1.0},{"t":61.5,"m":0.65},{"t":62.5,"m":1.6},{"t":63.5,"m":0.3},{"t":64.5,"m":2.4},{"t":65.5,"m":0.8},{"t":66.5,"m":1.25},{"t":67.5,"m":0.5},{"t":68.5,"m":1.9},{"t":69.5,"m":0.4},
  {"t":70.5,"m":0.9},{"t":71.5,"m":0.25},{"t":72.5,"m":1.4},{"t":73.5,"m":3.0},{"t":74.5,"m":0.6},{"t":75.5,"m":1.1},{"t":76.5,"m":0.45},{"t":77.5,"m":2.0},{"t":78.5,"m":0.8},{"t":79.5,"m":1.5},
  {"t":80.5,"m":0.55},{"t":81.5,"m":2.5},{"t":82.5,"m":0.9},{"t":83.5,"m":0.32},{"t":84.5,"m":1.3},{"t":85.5,"m":0.7},{"t":86.5,"m":0.2},{"t":87.5,"m":1.6},{"t":88.5,"m":1.0},{"t":89.5,"m":0.4},
  {"t":90.5,"m":1.8},{"t":91.5,"m":0.6},{"t":92.5,"m":1.2},{"t":93.5,"m":0.35},{"t":94.5,"m":0.85},{"t":95.5,"m":2.6},{"t":96.5,"m":0.5},{"t":97.5,"m":1.05},{"t":98.5,"m":0.25},{"t":99.5,"m":1.5},
  {"t":100.5,"m":0.7},{"t":101.5,"m":1.4},{"t":103.5,"m":0.4},{"t":104.5,"m":2.0},{"t":106.5,"m":0.9},{"t":107.5,"m":0.3},{"t":109.5,"m":1.1},
  {"t":110.5,"m":0.5},{"t":111.5,"m":1.8},{"t":113.5,"m":0.8},{"t":114.5,"m":0.25},{"t":116.5,"m":2.6},{"t":117.5,"m":0.6},{"t":119.5,"m":1.0},
  {"t":120.5,"m":1.5},{"t":121.5,"m":0.3},{"t":123.5,"m":0.7},{"t":124.5,"m":1.2},{"t":126.5,"m":0.45},{"t":127.5,"m":2.2},{"t":129.5,"m":0.9},
  {"t":130.5,"m":0.35},{"t":131.5,"m":1.1},{"t":133.5,"m":1.8},{"t":134.5,"m":0.6},{"t":136.5,"m":0.2},{"t":137.5,"m":0.95},{"t":139.5,"m":1.6},
  {"t":140.5,"m":0.5},{"t":141.5,"m":2.4},{"t":143.5,"m":0.75},{"t":144.5,"m":1.2},{"t":146.5,"m":0.3},{"t":147.5,"m":1.5},{"t":149.5,"m":0.8},
  {"t":150.5,"m":1.3},{"t":151.5,"m":0.4},{"t":153.5,"m":2.0},{"t":154.5,"m":0.9},{"t":156.5,"m":0.25},{"t":157.5,"m":1.1},{"t":159.5,"m":0.6},
  {"t":160.5,"m":1.7},{"t":161.5,"m":0.5},{"t":163.5,"m":1.0},{"t":164.5,"m":0.3},{"t":166.5,"m":0.8},{"t":167.5,"m":2.2},{"t":169.5,"m":1.3},
  {"t":170.5,"m":0.45},{"t":171.5,"m":1.2},{"t":173.5,"m":0.22},{"t":174.5,"m":0.7},{"t":176.5,"m":1.5},{"t":177.5,"m":2.7},{"t":179.5,"m":0.9},
  {"t":180.5,"m":1.0},{"t":181.5,"m":0.35},{"t":183.5,"m":1.6},{"t":184.5,"m":0.6},{"t":186.5,"m":0.85},{"t":187.5,"m":0.18},{"t":189.5,"m":1.3},
  {"t":190.5,"m":2.0},{"t":191.5,"m":0.7},{"t":193.5,"m":0.4},{"t":194.5,"m":1.2},{"t":196.5,"m":1.7},{"t":197.5,"m":0.3},{"t":199.5,"m":0.8},
  {"t":200.5,"m":1.1},{"t":201.5,"m":0.5},{"t":203.5,"m":1.5},{"t":204.5,"m":0.25},{"t":206.5,"m":2.3},{"t":207.5,"m":0.65},{"t":209.5,"m":1.0},
  {"t":210.5,"m":0.4},{"t":211.5,"m":1.3},{"t":213.5,"m":0.8},{"t":214.5,"m":2.0},{"t":216.5,"m":0.3},{"t":217.5,"m":1.0},{"t":219.5,"m":0.55},
  {"t":220.5,"m":1.7},{"t":221.5,"m":0.7},{"t":223.5,"m":0.2},{"t":224.5,"m":1.1},{"t":226.5,"m":2.6},{"t":227.5,"m":0.45},{"t":229.5,"m":0.9},
  {"t":230.5,"m":1.4},{"t":231.5,"m":0.3},{"t":233.5,"m":0.75},{"t":234.5,"m":1.9},{"t":236.5,"m":0.5},{"t":237.5,"m":1.0},{"t":239.5,"m":0.25},
  {"t":240.5,"m":1.2},{"t":241.5,"m":0.6},{"t":243.5,"m":2.0},{"t":244.5,"m":0.35},{"t":246.5,"m":1.4},{"t":247.5,"m":0.8},{"t":249.5,"m":0.45},
  {"t":250.5,"m":1.6},{"t":251.5,"m":0.5},{"t":253.5,"m":1.0},{"t":254.5,"m":0.28},{"t":256.5,"m":0.7},{"t":257.5,"m":1.8},{"t":259.5,"m":1.2},
  {"t":260.5,"m":0.4},{"t":261.5,"m":0.9},{"t":263.5,"m":2.2},{"t":264.5,"m":0.6},{"t":266.5,"m":1.3},{"t":267.5,"m":0.2},{"t":269.5,"m":0.75},
  {"t":270.5,"m":1.0},{"t":271.5,"m":2.5},{"t":273.5,"m":0.45},{"t":274.5,"m":1.2},{"t":276.5,"m":0.65},{"t":277.5,"m":0.3},{"t":279.5,"m":1.5},
  {"t":280.5,"m":0.85},{"t":281.5,"m":1.9},{"t":283.5,"m":0.35},{"t":284.5,"m":1.1},{"t":286.5,"m":0.55},{"t":287.5,"m":0.9},{"t":289.5,"m":0.22},
  {"t":290.5,"m":1.4},{"t":291.5,"m":0.6},{"t":293.5,"m":1.0},{"t":294.5,"m":0.3},{"t":296.5,"m":2.0},{"t":297.5,"m":0.8},{"t":299.5,"m":0.45},
  {"t":300.5,"m":0.7},{"t":301.5,"m":1.6},{"t":303.5,"m":0.4},{"t":304.5,"m":1.1},{"t":306.5,"m":0.25},{"t":307.5,"m":0.9},{"t":309.5,"m":2.3},
  {"t":310.5,"m":0.5},{"t":311.5,"m":1.3},{"t":313.5,"m":0.75},{"t":314.5,"m":0.2},{"t":316.5,"m":1.7},{"t":317.5,"m":0.45},{"t":319.5,"m":1.0},
  {"t":320.5,"m":1.2},{"t":321.5,"m":0.35},{"t":323.5,"m":0.8},{"t":324.5,"m":2.4},{"t":326.5,"m":0.6},{"t":327.5,"m":0.15},{"t":329.5,"m":1.4},
  {"t":330.5,"m":0.9},{"t":331.5,"m":0.4},{"t":333.5,"m":1.6},{"t":334.5,"m":0.7},{"t":336.5,"m":0.28},{"t":337.5,"m":1.1},{"t":339.5,"m":0.5},
  {"t":340.5,"m":1.8},{"t":341.5,"m":0.85},{"t":343.5,"m":0.3},{"t":344.5,"m":0.6},{"t":346.5,"m":1.3},{"t":347.5,"m":0.18},{"t":349.5,"m":0.95},
  {"t":350.5,"m":0.55},{"t":351.5,"m":1.5},{"t":353.5,"m":0.3},{"t":354.5,"m":0.8},{"t":356.5,"m":1.2},{"t":357.5,"m":0.2},{"t":359.5,"m":2.0},
  {"t":360.5,"m":0.7},{"t":361.5,"m":0.35},{"t":363.5,"m":1.0},{"t":364.5,"m":1.9},{"t":366.5,"m":0.5},{"t":367.5,"m":0.9},{"t":369.5,"m":0.25},
  {"t":370.5,"m":1.3},{"t":371.5,"m":0.6},{"t":373.5,"m":0.3},{"t":374.5,"m":1.1},{"t":376.5,"m":0.75},{"t":377.5,"m":2.2},{"t":379.5,"m":0.45},
  {"t":380.5,"m":0.9},{"t":381.5,"m":0.2},{"t":383.5,"m":1.5},{"t":384.5,"m":0.55},{"t":386.5,"m":0.8},{"t":387.5,"m":1.2},{"t":389.5,"m":0.35},
  {"t":390.5,"m":0.65},{"t":391.5,"m":1.0},{"t":393.5,"m":0.28},{"t":394.5,"m":1.7},{"t":396.5,"m":0.5},{"t":397.5,"m":0.9},{"t":399.5,"m":0.18},
  {"t":400.5,"m":1.1},{"t":401.5,"m":0.45},{"t":403.5,"m":1.6},{"t":404.5,"m":0.3},{"t":406.5,"m":0.7},{"t":407.5,"m":2.0},{"t":409.5,"m":0.55},
  {"t":410.5,"m":0.35},{"t":411.5,"m":1.2},{"t":413.5,"m":0.6},{"t":414.5,"m":1.5},{"t":416.5,"m":0.25},{"t":417.5,"m":0.9},{"t":419.5,"m":2.2},
  {"t":420.5,"m":0.5},{"t":421.5,"m":1.0},{"t":423.5,"m":0.3},{"t":424.5,"m":1.3},{"t":426.5,"m":0.75},{"t":427.5,"m":0.2},{"t":429.5,"m":1.7},
  {"t":430.5,"m":0.9},{"t":431.5,"m":0.4},{"t":433.5,"m":1.1},{"t":434.5,"m":0.6},{"t":436.5,"m":2.0},{"t":437.5,"m":0.3},{"t":439.5,"m":0.8},
  {"t":440.5,"m":1.4},{"t":441.5,"m":0.25},{"t":443.5,"m":0.65},{"t":444.5,"m":1.0},{"t":446.5,"m":0.45},{"t":447.5,"m":1.8},{"t":449.5,"m":0.55},
  {"t":450.5,"m":0.3},{"t":451.5,"m":1.0},{"t":452.5,"m":0.5},{"t":453.5,"m":1.6},{"t":455.5,"m":0.2},{"t":456.5,"m":0.75},{"t":457.5,"m":0.12},{"t":459.5,"m":1.2},
  {"t":460.5,"m":0.6},{"t":461.5,"m":0.25},{"t":462.5,"m":1.3},{"t":463.5,"m":0.4},{"t":465.5,"m":0.9},{"t":466.5,"m":0.15},{"t":467.5,"m":2.0},{"t":469.5,"m":0.5},
  {"t":470.5,"m":1.1},{"t":471.5,"m":0.35},{"t":472.5,"m":0.7},{"t":473.5,"m":0.18},{"t":475.5,"m":1.5},{"t":476.5,"m":0.45},{"t":477.5,"m":0.9},{"t":479.5,"m":0.28},
  {"t":480.5,"m":0.8},{"t":481.5,"m":1.4},{"t":482.5,"m":0.3},{"t":483.5,"m":0.55},{"t":485.5,"m":0.12},{"t":486.5,"m":1.0},{"t":487.5,"m":0.4},{"t":489.5,"m":2.1},
  {"t":490.5,"m":0.25},{"t":491.5,"m":0.7},{"t":492.5,"m":1.2},{"t":493.5,"m":0.1},{"t":495.5,"m":0.45},{"t":496.5,"m":0.9},{"t":497.5,"m":0.2},{"t":499.2,"m":1.6},
  {"t":500.5,"m":0.5},{"t":501.5,"m":1.1},{"t":502.5,"m":0.3},{"t":503.5,"m":0.7},{"t":505.5,"m":1.8},{"t":506.5,"m":0.2},{"t":507.5,"m":0.9},{"t":509.5,"m":0.4},
  {"t":510.5,"m":1.3},{"t":511.5,"m":0.25},{"t":512.5,"m":0.6},{"t":513.5,"m":1.0},{"t":515.5,"m":0.15},{"t":516.5,"m":2.2},{"t":517.5,"m":0.45},{"t":519.5,"m":0.8},
  {"t":520.5,"m":0.35},{"t":521.5,"m":0.7},{"t":522.5,"m":1.5},{"t":523.5,"m":0.2},{"t":525.5,"m":1.0},{"t":526.5,"m":0.5},{"t":527.5,"m":0.1},{"t":529.5,"m":1.2},
  {"t":530.5,"m":0.8},{"t":531.5,"m":0.3},{"t":532.5,"m":1.1},{"t":533.5,"m":0.55},{"t":535.5,"m":1.7},{"t":536.5,"m":0.25},{"t":537.5,"m":0.65},{"t":539.5,"m":0.12},
  {"t":540.5,"m":1.4},{"t":541.5,"m":0.45},{"t":542.5,"m":0.8},{"t":543.5,"m":0.2},{"t":545.5,"m":1.0},{"t":546.5,"m":0.35},{"t":547.5,"m":2.0},{"t":549.5,"m":0.6},
  {"t":550.5,"m":0.25},{"t":551.5,"m":1.2},{"t":552.5,"m":0.5},{"t":553.5,"m":0.9},{"t":555.5,"m":0.15},{"t":556.5,"m":1.5},{"t":557.5,"m":0.4},{"t":559.5,"m":0.7},
  {"t":560.5,"m":1.1},{"t":561.5,"m":0.3},{"t":562.5,"m":0.6},{"t":563.5,"m":2.4},{"t":565.5,"m":0.45},{"t":566.5,"m":0.9},{"t":567.5,"m":0.18},{"t":569.5,"m":1.3},
  {"t":570.5,"m":0.35},{"t":571.5,"m":0.8},{"t":572.5,"m":0.12},{"t":573.5,"m":1.0},{"t":575.5,"m":0.5},{"t":576.5,"m":1.6},{"t":577.5,"m":0.25},{"t":579.5,"m":0.7},
  {"t":580.5,"m":0.45},{"t":581.5,"m":1.4},{"t":582.5,"m":0.3},{"t":583.5,"m":0.9},{"t":585.5,"m":0.2},{"t":586.5,"m":0.6},{"t":587.5,"m":2.1},{"t":589.5,"m":0.4},
  {"t":590.5,"m":1.0},{"t":591.5,"m":0.15},{"t":592.5,"m":0.7},{"t":593.5,"m":0.35},{"t":595.5,"m":1.3},{"t":596.5,"m":0.5},{"t":597.5,"m":0.9},{"t":599.5,"m":0.22},
  {"t":600.5,"m":0.6},{"t":601.5,"m":1.2},{"t":602.5,"m":0.4},{"t":603.5,"m":0.8},{"t":605.5,"m":0.13},{"t":606.5,"m":1.0},{"t":607.5,"m":0.3},{"t":609.5,"m":1.7},
  {"t":610.5,"m":0.5},{"t":611.5,"m":0.25},{"t":612.5,"m":0.9},{"t":613.5,"m":0.45},{"t":615.5,"m":1.4},{"t":616.5,"m":0.18},{"t":617.5,"m":0.7},{"t":619.5,"m":1.1},
  {"t":620.5,"m":0.3},{"t":621.5,"m":0.6},{"t":622.5,"m":1.9},{"t":623.5,"m":0.2},{"t":625.5,"m":0.85},{"t":626.5,"m":0.4},{"t":627.5,"m":1.2},{"t":629.5,"m":0.1},
  {"t":630.5,"m":0.5},{"t":631.5,"m":1.0},{"t":632.5,"m":0.25},{"t":633.5,"m":0.7},{"t":635.5,"m":1.5},{"t":636.5,"m":0.3},{"t":637.5,"m":0.9},{"t":639.5,"m":0.45},
  {"t":640.5,"m":1.2},{"t":641.5,"m":0.2},{"t":642.5,"m":0.6},{"t":643.5,"m":0.12},{"t":645.5,"m":0.8},{"t":646.5,"m":1.6},{"t":647.5,"m":0.35},{"t":649.5,"m":0.55},
  {"t":650.5,"m":0.9},{"t":651.5,"m":0.3},{"t":652.5,"m":1.3},{"t":653.5,"m":0.45},{"t":655.5,"m":0.7},{"t":656.5,"m":0.15},{"t":657.5,"m":1.0},{"t":659.5,"m":2.0},
  {"t":660.5,"m":0.25},{"t":661.5,"m":0.8},{"t":662.5,"m":0.5},{"t":663.5,"m":1.4},{"t":665.5,"m":0.35},{"t":666.5,"m":0.1},{"t":667.5,"m":0.65},{"t":669.5,"m":1.1},
  {"t":670.5,"m":0.4},{"t":671.5,"m":1.7},{"t":672.5,"m":0.2},{"t":673.5,"m":0.75},{"t":675.5,"m":1.2},{"t":676.5,"m":0.45},{"t":677.5,"m":0.14},{"t":679.5,"m":0.9},
  {"t":680.5,"m":1.5},{"t":681.5,"m":0.3},{"t":682.5,"m":0.6},{"t":683.5,"m":0.2},{"t":685.5,"m":1.0},{"t":686.5,"m":0.5},{"t":687.5,"m":2.2},{"t":689.5,"m":0.35},
  {"t":690.5,"m":0.8},{"t":691.5,"m":0.12},{"t":692.5,"m":1.1},{"t":693.5,"m":0.45},{"t":695.5,"m":0.25},{"t":696.5,"m":1.4},{"t":697.5,"m":0.6},{"t":699.5,"m":0.18},
  {"t":700.5,"m":1.0},{"t":701.5,"m":0.4},{"t":702.5,"m":0.7},{"t":703.5,"m":1.8},{"t":705.5,"m":0.3},{"t":706.5,"m":0.55},{"t":707.5,"m":0.15},{"t":709.5,"m":1.2},
  {"t":710.5,"m":0.5},{"t":711.5,"m":0.2},{"t":712.5,"m":0.9},{"t":713.5,"m":1.3},{"t":715.5,"m":0.35},{"t":716.5,"m":0.7},{"t":717.5,"m":2.0},{"t":719.5,"m":0.25},
  {"t":720.5,"m":0.6},{"t":721.5,"m":1.1},{"t":722.5,"m":0.3},{"t":723.5,"m":0.8},{"t":725.5,"m":0.15},{"t":726.5,"m":1.5},{"t":727.5,"m":0.45},{"t":729.5,"m":0.9},
  {"t":730.5,"m":1.3},{"t":731.5,"m":0.25},{"t":732.5,"m":0.5},{"t":733.5,"m":0.1},{"t":735.5,"m":1.0},{"t":736.5,"m":0.4},{"t":737.5,"m":0.7},{"t":739.5,"m":1.7},
  {"t":740.5,"m":0.3},{"t":741.5,"m":0.6},{"t":742.5,"m":1.2},{"t":743.5,"m":0.2},{"t":745.5,"m":0.45},{"t":746.5,"m":0.9},{"t":747.5,"m":0.13},{"t":749.5,"m":1.4},
  {"t":750.5,"m":0.5},{"t":751.5,"m":1.0},{"t":752.5,"m":0.3},{"t":753.5,"m":0.65},{"t":755.5,"m":2.0},{"t":756.5,"m":0.2},{"t":757.5,"m":0.8},{"t":759.5,"m":0.4},
  {"t":760.5,"m":1.2},{"t":761.5,"m":0.25},{"t":762.5,"m":0.55},{"t":763.5,"m":0.9},{"t":765.5,"m":0.12},{"t":766.5,"m":0.7},{"t":767.5,"m":1.6},{"t":769.5,"m":0.35},
  {"t":770.5,"m":0.8},{"t":771.5,"m":0.45},{"t":772.5,"m":1.1},{"t":773.5,"m":0.2},{"t":775.5,"m":0.6},{"t":776.5,"m":1.4},{"t":777.5,"m":0.3},{"t":779.5,"m":0.9},
  {"t":780.5,"m":0.15},{"t":781.5,"m":1.0},{"t":782.5,"m":0.5},{"t":783.5,"m":0.25},{"t":785.5,"m":1.3},{"t":786.5,"m":0.4},{"t":787.5,"m":0.7},{"t":789.5,"m":1.8},
  {"t":790.5,"m":0.3},{"t":791.5,"m":0.8},{"t":792.5,"m":0.13},{"t":793.5,"m":0.5},{"t":795.5,"m":1.1},{"t":796.5,"m":0.2},{"t":797.5,"m":0.6},{"t":799.5,"m":1.5},
  {"t":800.5,"m":0.45},{"t":801.5,"m":0.25},{"t":802.5,"m":0.9},{"t":803.5,"m":1.4},{"t":805.5,"m":0.35},{"t":806.5,"m":0.7},{"t":807.5,"m":0.12},{"t":809.5,"m":1.1},
  {"t":810.5,"m":0.5},{"t":811.5,"m":1.7},{"t":812.5,"m":0.3},{"t":813.5,"m":0.65},{"t":815.5,"m":0.2},{"t":816.5,"m":1.0},{"t":817.5,"m":0.4},{"t":819.5,"m":2.2},
  {"t":820.5,"m":0.8},{"t":821.5,"m":0.35},{"t":822.5,"m":0.15},{"t":823.5,"m":1.2},{"t":825.5,"m":0.55},{"t":826.5,"m":0.9},{"t":827.5,"m":0.25},{"t":829.5,"m":1.5},
  {"t":830.5,"m":0.6},{"t":831.5,"m":1.1},{"t":832.5,"m":0.3},{"t":833.5,"m":0.45},{"t":835.5,"m":0.1},{"t":836.5,"m":0.8},{"t":837.5,"m":1.4},{"t":839.5,"m":0.35},
  {"t":840.5,"m":0.7},{"t":841.5,"m":0.2},{"t":842.5,"m":1.0},{"t":843.5,"m":0.5},{"t":845.5,"m":1.6},{"t":846.5,"m":0.3},{"t":847.5,"m":0.85},{"t":849.5,"m":0.15},
  {"t":850.5,"m":1.2},{"t":851.5,"m":0.4},{"t":852.5,"m":0.65},{"t":853.5,"m":0.25},{"t":855.5,"m":1.0},{"t":856.5,"m":0.55},{"t":857.5,"m":2.0},{"t":859.5,"m":0.3},
  {"t":860.5,"m":0.8},{"t":861.5,"m":0.14},{"t":862.5,"m":1.3},{"t":863.5,"m":0.5},{"t":865.5,"m":0.35},{"t":866.5,"m":0.9},{"t":867.5,"m":1.6},{"t":869.5,"m":0.22},
  {"t":870.5,"m":0.6},{"t":871.5,"m":1.0},{"t":872.5,"m":0.3},{"t":873.5,"m":0.75},{"t":875.5,"m":0.18},{"t":876.5,"m":1.4},{"t":877.5,"m":0.45},{"t":879.5,"m":0.9},
  {"t":880.5,"m":1.9},{"t":881.5,"m":0.35},{"t":882.5,"m":0.6},{"t":883.5,"m":0.12},{"t":885.5,"m":1.1},{"t":886.5,"m":0.5},{"t":887.5,"m":0.25},{"t":889.5,"m":0.8},
  {"t":890.5,"m":1.3},{"t":891.5,"m":0.3},{"t":892.5,"m":0.7},{"t":893.5,"m":0.45},{"t":895.5,"m":0.15},{"t":896.5,"m":1.0},{"t":897.5,"m":2.1},{"t":899.5,"m":0.5},
  {"t":900.5,"m":0.25},{"t":901.5,"m":0.9},{"t":902.5,"m":1.4},{"t":903.5,"m":0.35},{"t":905.5,"m":0.6},{"t":906.5,"m":0.13},{"t":907.5,"m":1.0},{"t":909.5,"m":0.4},
  {"t":910.5,"m":1.6},{"t":911.5,"m":0.5},{"t":912.5,"m":0.2},{"t":913.5,"m":0.8},{"t":915.5,"m":1.2},{"t":916.5,"m":0.3},{"t":917.5,"m":0.65},{"t":919.5,"m":0.1},
  {"t":920.5,"m":0.9},{"t":921.5,"m":0.4},{"t":922.5,"m":1.3},{"t":923.5,"m":0.25},{"t":925.5,"m":0.7},{"t":926.5,"m":1.8},{"t":927.5,"m":0.15},{"t":929.5,"m":0.5},
  {"t":930.5,"m":1.1},{"t":931.5,"m":0.3},{"t":932.5,"m":0.6},{"t":933.5,"m":0.2},{"t":935.5,"m":1.5},{"t":936.5,"m":0.45},{"t":937.5,"m":0.85},{"t":939.5,"m":0.12},
  {"t":940.5,"m":0.6},{"t":941.5,"m":1.2},{"t":942.5,"m":0.3},{"t":943.5,"m":0.9},{"t":945.5,"m":0.2},{"t":946.5,"m":0.5},{"t":947.5,"m":1.6},{"t":949.5,"m":0.35}
 ]
}
}
